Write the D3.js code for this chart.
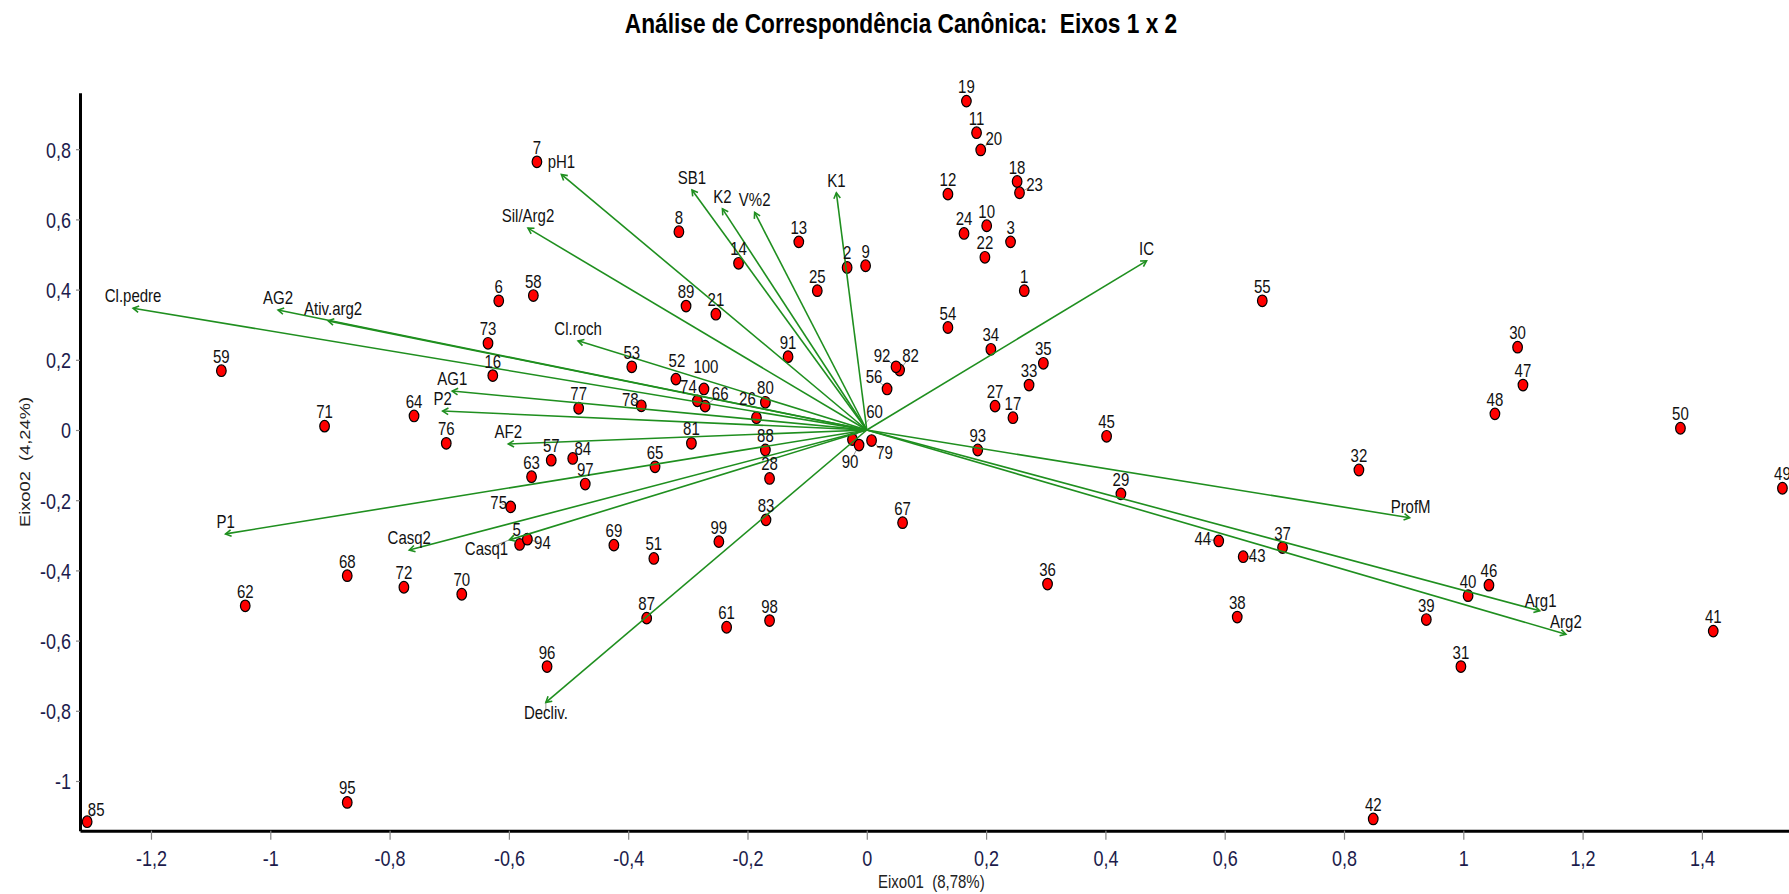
<!DOCTYPE html>
<html><head><meta charset="utf-8">
<script src="https://cdn.jsdelivr.net/npm/d3@7"></script>
<style>
body{margin:0;background:#fff;}
svg{display:block;}
text{font-family:"Liberation Sans",Arial,Helvetica,sans-serif;}
</style>
</head><body>
<svg id="chart" width="1789" height="894"></svg>
<script>
// ---------------- DATA ----------------
const siteIds = [1,2,3,5,6,7,8,9,10,11,12,13,14,16,17,18,19,20,21,22,23,24,25,26,27,28,29,30,31,32,33,34,35,36,37,38,39,40,41,42,43,44,45,46,47,48,49,50,51,52,53,54,55,56,57,58,59,60,61,62,63,64,65,66,67,68,69,70,71,72,73,74,75,76,77,78,79,80,81,82,83,84,85,87,88,89,90,91,92,93,94,95,96,97,98,99,100];
const siteAxis1 = [0.264,-0.033,0.241,-0.582,-0.617,-0.553,-0.315,-0.002,0.201,0.184,0.136,-0.114,-0.215,-0.627,0.245,0.252,0.167,0.191,-0.253,0.198,0.256,0.163,-0.083,-0.185,0.215,-0.163,0.426,1.091,0.996,0.825,0.272,0.208,0.296,0.303,0.697,0.621,0.938,1.008,1.419,0.849,0.631,0.590,0.402,1.043,1.100,1.053,1.535,1.364,-0.357,-0.320,-0.394,0.136,0.663,0.034,-0.529,-0.559,-1.082,-0.024,-0.235,-1.042,-0.562,-0.759,-0.355,-0.271,0.060,-0.871,-0.424,-0.679,-0.909,-0.776,-0.635,-0.284,-0.597,-0.705,-0.483,-0.378,0.008,-0.170,-0.294,0.055,-0.169,-0.493,-1.307,-0.369,-0.170,-0.303,-0.013,-0.132,0.049,0.186,-0.569,-0.871,-0.536,-0.472,-0.163,-0.248,-0.273];
const siteAxis2 = [0.397,0.463,0.536,-0.326,0.368,0.764,0.565,0.468,0.582,0.847,0.672,0.536,0.475,0.155,0.035,0.708,0.937,0.798,0.330,0.492,0.676,0.560,0.397,0.035,0.068,-0.138,-0.182,0.236,-0.674,-0.114,0.128,0.230,0.190,-0.439,-0.335,-0.533,-0.540,-0.472,-0.573,-1.108,-0.361,-0.316,-0.018,-0.442,0.128,0.046,-0.166,0.005,-0.366,0.145,0.180,0.292,0.368,0.117,-0.086,0.383,0.169,-0.027,-0.562,-0.501,-0.133,0.040,-0.105,0.068,-0.264,-0.415,-0.328,-0.468,0.011,-0.448,0.247,0.083,-0.219,-0.038,0.062,0.069,-0.030,0.079,-0.038,0.171,-0.256,-0.081,-1.116,-0.536,-0.057,0.353,-0.043,0.209,0.180,-0.057,-0.311,-1.061,-0.674,-0.154,-0.543,-0.318,0.117];

const varNames = ["pH1","SB1","K2","V%2","K1","Sil/Arg2","Cl.roch","Cl.pedre","AG2","Ativ.arg2","AG1","P2","AF2","Casq1","Casq2","P1","Decliv.","IC","ProfM","Arg1","Arg2"];
const varAxis1 = [-0.512,-0.293,-0.242,-0.188,-0.051,-0.568,-0.484,-1.230,-0.987,-0.903,-0.695,-0.711,-0.601,-0.599,-0.767,-1.075,-0.538,0.469,0.910,1.128,1.172];
const varAxis2 = [0.728,0.684,0.630,0.620,0.676,0.575,0.254,0.347,0.342,0.311,0.111,0.054,-0.040,-0.313,-0.342,-0.296,-0.776,0.482,-0.250,-0.515,-0.582];

const xTickValues = [-1.2,-1,-0.8,-0.6,-0.4,-0.2,0,0.2,0.4,0.6,0.8,1,1.2,1.4];
const yTickValues = [-1,-0.8,-0.6,-0.4,-0.2,0,0.2,0.4,0.6,0.8];
const xDomain = [-1.319, 1.546];
const yDomain = [-1.1416, 0.961];

const titleText = "Análise de Correspondência Canônica:  Eixos 1 x 2";
const xTitleText = "Eixo01  (8,78%)";
const yTitleText = "Eixo02  (4,24%)";

// ---------------- LAYOUT (label nudges, px) ----------------
// [dx, dBaseline, leaderLine]
const siteLabelNudge = {
  20:[13,3,1], 23:[15,6,1], 43:[14,13,1], 44:[-16,12,1], 92:[-14,3,1], 82:[11,0,1],
  56:[-13,2,1], 74:[-9,0,0], 66:[15,2,1], 100:[2,-8,0], 52:[1,-4,0], 78:[-11,8,1],
  26:[-9,-5,0], 84:[10,5,0], 75:[-12,10,1], 5:[-3,0,0], 94:[15,18,1], 90:[-9,31,1],
  79:[13,26,1], 60:[22,-13,1], 85:[9,2,1]
};
const varLabelNudge = {
  "Casq1":[-23,21,1], "Decliv.":[0,23,1], "Ativ.arg2":[5,0,0], "Arg1":[1,2,0], "ProfM":[1,1,0]
};

// ---------------- CHART ----------------
const SY = 1.22; // vertical stretch of the original picture
const svg = d3.select("#chart");
const x = d3.scaleLinear().domain(xDomain).range([80, 1789]);
const y = d3.scaleLinear().domain(yDomain).range([830.7, 92.7]);
const fmt = v => String(+v.toFixed(1)).replace(".", ",");

function sText(g, px, py, str, size, anchor, weight, fill) {
  return g.append("text")
    .attr("transform", `translate(${px},${py}) scale(1,${SY})`)
    .attr("text-anchor", anchor || "middle")
    .attr("font-size", size)
    .attr("font-weight", weight || "normal")
    .attr("fill", fill || "#111")
    .style("white-space", "pre")
    .text(str);
}

// title
sText(svg, 901, 33, titleText, 22.7, "middle", "bold", "#000");

// axes
const xAxis = svg.append("g").attr("transform", "translate(0,830.7)")
  .call(d3.axisBottom(x).tickValues(xTickValues).tickSize(9).tickSizeOuter(0).tickFormat(fmt));
xAxis.select(".domain").attr("stroke", "#000").attr("stroke-width", 3);
xAxis.selectAll(".tick line").attr("stroke", "#888").attr("stroke-width", 1.2);
xAxis.selectAll(".tick text")
  .attr("y", null).attr("dy", null)
  .attr("transform", `translate(0,35.5) scale(1,${SY})`)
  .attr("font-size", 18).attr("fill", "#1c1c4c").attr("font-family", null);

const yAxis = svg.append("g").attr("transform", "translate(80,0)")
  .call(d3.axisLeft(y).tickValues(yTickValues).tickSize(4).tickSizeOuter(0).tickFormat(fmt));
yAxis.select(".domain").attr("stroke", "#000").attr("stroke-width", 3);
yAxis.selectAll(".tick line").attr("stroke", "#888").attr("stroke-width", 1.2);
yAxis.selectAll(".tick text")
  .attr("x", null).attr("dy", null)
  .attr("transform", `translate(-9,7.8) scale(1,${SY})`)
  .attr("font-size", 18).attr("fill", "#1c1c4c").attr("font-family", null);

// axis titles
sText(svg, 878, 888, xTitleText, 15, "start", "normal", "#222");
svg.append("text")
  .attr("transform", `translate(30,462) rotate(-90) scale(${SY},1)`)
  .attr("text-anchor", "middle").attr("font-size", 15).attr("fill", "#222")
  .style("white-space", "pre").text(yTitleText);

// data tables
const sites = siteIds.map((id, i) => ({id, a1: siteAxis1[i], a2: siteAxis2[i]}));
const vars = varNames.map((n, i) => ({name: n, a1: varAxis1[i], a2: varAxis2[i]}));

const plot = svg.append("g");
const leaders = plot.append("g");
const pts = plot.append("g");
const arrows = plot.append("g");
const labels = plot.append("g");

// site label positions
sites.forEach(d => {
  const nd = siteLabelNudge[d.id] || [0, 0, 0];
  d.px = x(d.a1); d.py = y(d.a2);
  d.lx = d.px + nd[0]; d.ly = d.py - 8 + nd[1]; d.lead = nd[2];
});
vars.forEach(d => {
  const nd = varLabelNudge[d.name] || [0, 0, 0];
  d.px = x(d.a1); d.py = y(d.a2);
  d.lx = d.px + nd[0]; d.ly = d.py - 6 + nd[1]; d.lead = nd[2];
});

// leader lines (grey)
[...sites, ...vars].filter(d => d.lead).forEach(d => {
  const tx = d.lx, ty = d.ly - 6;
  leaders.append("line")
    .attr("x1", d.px).attr("y1", d.py)
    .attr("x2", d.px + (tx - d.px) * 0.75).attr("y2", d.py + (ty - d.py) * 0.75)
    .attr("stroke", "#9a9a9a").attr("stroke-width", 1);
});

// points
pts.selectAll("ellipse").data(sites).join("ellipse")
  .attr("cx", d => d.px).attr("cy", d => d.py)
  .attr("rx", 4.8).attr("ry", 5.8)
  .attr("fill", "#ff0000").attr("stroke", "#000").attr("stroke-width", 1.2);

// arrows from origin
const ox = x(0), oy = y(0);
const green = "#1f8f1f";
arrows.selectAll("line").data(vars).join("line")
  .attr("x1", ox).attr("y1", oy)
  .attr("x2", d => d.px).attr("y2", d => d.py)
  .attr("stroke", green).attr("stroke-width", 1.6);
arrows.selectAll("path").data(vars).join("path")
  .attr("d", d => {
    const ang = Math.atan2(d.py - oy, d.px - ox);
    const L = 6.5, s = Math.PI / 6;
    const b1x = d.px - L * Math.cos(ang - s), b1y = d.py - L * Math.sin(ang - s);
    const b2x = d.px - L * Math.cos(ang + s), b2y = d.py - L * Math.sin(ang + s);
    return `M${b1x},${b1y}L${d.px},${d.py}L${b2x},${b2y}`;
  })
  .attr("fill", "none").attr("stroke", green).attr("stroke-width", 1.6);

// labels
sites.forEach(d => sText(labels, d.lx, d.ly, String(d.id), 15, "middle", "normal", "#111"));
vars.forEach(d => sText(labels, d.lx, d.ly, d.name, 15, "middle", "normal", "#111"));
</script>
</body></html>
